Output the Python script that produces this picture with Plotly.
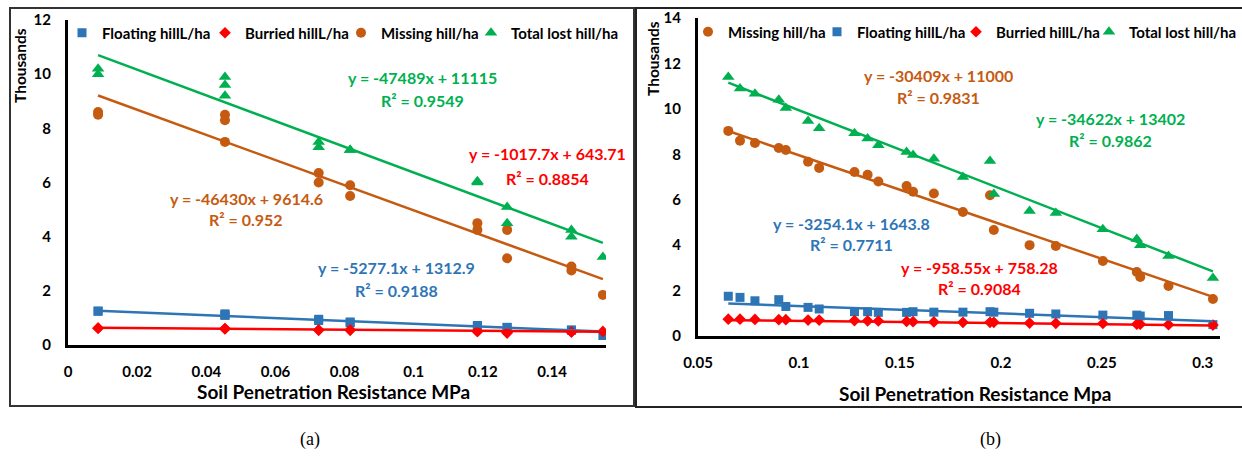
import plotly.graph_objects as go

W, H = 1242, 456

# ---------------- data: panel (a) ----------------
x_a = [0.0087, 0.0087, 0.0454, 0.0454, 0.0454, 0.0725, 0.0725, 0.0816, 0.0816,
       0.1184, 0.1184, 0.127, 0.127, 0.1456, 0.1456, 0.1547]
floating_a = [1.25, 1.25, 1.15, 1.1, 1.1, 0.95, 0.9, 0.85, 0.82, 0.72, 0.7, 0.65, 0.65, 0.55, 0.55, 0.35]
buried_a = [0.62, 0.62, 0.6, 0.6, 0.6, 0.55, 0.55, 0.55, 0.55, 0.5, 0.5, 0.45, 0.45, 0.48, 0.48, 0.5]
missing_a = [8.6, 8.5, 8.5, 8.3, 7.5, 6.35, 6.0, 5.9, 5.5, 4.5, 4.25, 4.25, 3.2, 2.9, 2.75, 1.85]
total_a = [10.2, 10.0, 9.9, 9.6, 9.2, 7.5, 7.3, 7.2, 7.2, 6.05, 6.0, 5.1, 4.5, 4.25, 4.0, 3.25]

# trendline coefficients (slope, intercept, R2) as printed on the chart
fit_a = {
    "floating": (-5277.1, 1312.9, "0.9188"),
    "buried": (-1017.7, 643.71, "0.8854"),
    "missing": (-46430, 9614.6, "0.952"),
    "total": (-47489, 11115, "0.9549"),
}

# ---------------- data: panel (b) ----------------
x_b = [0.065, 0.0708, 0.0782, 0.090, 0.0935, 0.1045, 0.110, 0.1275, 0.134, 0.1393, 0.1533,
       0.1565, 0.1668, 0.1812, 0.1946, 0.1965, 0.2142, 0.2272, 0.2505, 0.2673, 0.269, 0.283, 0.305]
missing_b = [9.03, 8.6, 8.5, 8.28, 8.19, 7.67, 7.4, 7.22, 7.1, 6.8, 6.6, 6.35, 6.27, 5.46, 6.2,
             4.67, 4.0, 3.96, 3.3, 2.82, 2.6, 2.2, 1.63]
floating_b = [1.75, 1.7, 1.55, 1.6, 1.3, 1.26, 1.19, 1.07, 1.07, 1.04, 1.04, 1.07, 1.05, 1.05, 1.07,
              1.05, 1.0, 0.97, 0.92, 0.92, 0.88, 0.9, 0.5]
buried_b = [0.74, 0.74, 0.73, 0.72, 0.72, 0.7, 0.7, 0.68, 0.67, 0.66, 0.64, 0.63, 0.62, 0.6, 0.6,
            0.6, 0.57, 0.56, 0.55, 0.52, 0.52, 0.5, 0.48]
total_b = [11.4, 10.9, 10.66, 10.4, 10.04, 9.47, 9.15, 8.93, 8.7, 8.4, 8.1, 7.97, 7.8, 7.0, 7.7,
           6.25, 5.5, 5.42, 4.7, 4.27, 4.0, 3.52, 2.55]

fit_b = {
    "missing": (-30409, 11000, "0.9831"),
    "floating": (-3254.1, 1643.8, "0.7711"),
    "buried": (-958.55, 758.28, "0.9084"),
    "total": (-34622, 13402, "0.9862"),
}

names = {
    "floating": "Floating hillL/ha",
    "buried": "Burried hillL/ha",
    "missing": "Missing hill/ha",
    "total": "Total lost hill/ha",
}
colors = {"floating": "#2E75B6", "buried": "#FF0000", "missing": "#C55A11", "total": "#00B050"}
symbols = {"floating": "square", "buried": "diamond", "missing": "circle", "total": "triangle-up"}
msize = {"floating": 9, "buried": 9, "missing": 10, "total": 11}

# legend entry widths (px) per panel, in legend order
legw_a = {"floating": 98, "buried": 91, "missing": 85, "total": 115}
legw_b = {"missing": 84, "floating": 94, "buried": 88, "total": 112}

FONT = "Lato"


def px(xp):
    return xp / W


def py(yp):
    return 1 - yp / H


fig = go.Figure()


def add_panel(xs, series, fits, order, xa, ya, legend, legw):
    for key in order:
        fig.add_trace(go.Scatter(
            x=xs, y=series[key], mode="markers", name=names[key],
            marker=dict(symbol=symbols[key], color=colors[key], size=msize[key]),
            xaxis=xa, yaxis=ya, legend=legend, legendwidth=legw[key],
        ))
    for key in order:
        m, b, _ = fits[key]
        x0, x1 = min(xs), max(xs)
        fig.add_trace(go.Scatter(
            x=[x0, x1], y=[(m * x0 + b) / 1000, (m * x1 + b) / 1000], mode="lines",
            line=dict(color=colors[key], width=2.5), showlegend=False,
            xaxis=xa, yaxis=ya, hoverinfo="skip",
        ))


series_a = {"floating": floating_a, "buried": buried_a, "missing": missing_a, "total": total_a}
series_b = {"missing": missing_b, "floating": floating_b, "buried": buried_b, "total": total_b}
add_panel(x_a, series_a, fit_a, ["floating", "buried", "missing", "total"], "x", "y", "legend", legw_a)
add_panel(x_b, series_b, fit_b, ["missing", "floating", "buried", "total"], "x2", "y2", "legend2", legw_b)

axis_common = dict(showgrid=False, zeroline=False, showline=True, linecolor="black", linewidth=3,
                   ticks="", tickfont=dict(family=FONT, size=15, color="black", weight="bold"))

legend_common = dict(orientation="h", xanchor="left", yanchor="middle",
                     font=dict(family=FONT, size=15, color="black", weight="bold"),
                     bgcolor="rgba(0,0,0,0)", itemwidth=30, borderwidth=0)

fig.update_layout(
    width=W, height=H, margin=dict(l=0, r=0, t=0, b=0, autoexpand=False),
    paper_bgcolor="white", plot_bgcolor="white",
    font=dict(family=FONT, color="black"),
    xaxis=dict(domain=[px(68), px(606)], range=[0, 0.1556], tickvals=[0, 0.02, 0.04, 0.06, 0.08, 0.1, 0.12, 0.14],
               ticktext=["0", "0.02", "0.04", "0.06", "0.08", "0.1", "0.12", "0.14"],
               ticklabelstandoff=11, anchor="y", **axis_common),
    yaxis=dict(domain=[py(345), py(20)], range=[0, 12], tickvals=[0, 2, 4, 6, 8, 10, 12],
               ticklabelstandoff=11, anchor="x", **axis_common),
    xaxis2=dict(domain=[px(698), px(1220)], range=[0.05, 0.3085], tickvals=[0.05, 0.1, 0.15, 0.2, 0.25, 0.3],
                ticktext=["0.05", "0.1", "0.15", "0.2", "0.25", "0.3"],
                ticklabelstandoff=11, anchor="y2", **axis_common),
    yaxis2=dict(domain=[py(336), py(18)], range=[0, 14], tickvals=[0, 2, 4, 6, 8, 10, 12, 14],
                ticklabelstandoff=11, anchor="x2", **axis_common),
    legend=dict(x=px(62), y=py(33), **legend_common),
    legend2=dict(x=px(688), y=py(32), **legend_common),
)

annotations = []


def text(xp, yp, s, color="black", size=16, angle=0, family=FONT, bold=True):
    annotations.append(dict(
        x=px(xp), y=py(yp), xref="paper", yref="paper", text=s, showarrow=False,
        xanchor="center", yanchor="middle", textangle=angle,
        font=dict(family=family, size=size, color=color, weight="bold" if bold else "normal"),
    ))


def eq(key, fits, xp, yp, yp2):
    m, b, r2 = fits[key]
    text(xp, yp, f"y = {m:g}x + {b:g}", colors[key])
    text(xp, yp2, f"R² = {r2}", colors[key])


eq("total", fit_a, 422, 77, 100)
eq("buried", fit_a, 547, 153, 178)
eq("missing", fit_a, 246, 198, 220)
eq("floating", fit_a, 397, 267, 290)

eq("missing", fit_b, 938, 75, 97)
eq("total", fit_b, 1110, 118, 140)
eq("floating", fit_b, 851, 223, 245)
eq("buried", fit_b, 980, 267, 288)

text(20, 66, "Thousands", size=15.5, angle=-90)
text(653, 59, "Thousands", size=15.5, angle=-90)
text(334, 391, "Soil Penetration Resistance MPa", size=19)
text(975, 393, "Soil Penetration Resistance Mpa", size=19)
text(310, 439, "(a)", size=18, family="Liberation Serif", bold=False)
text(990, 439, "(b)", size=18, family="Liberation Serif", bold=False)

fig.update_layout(annotations=annotations)

shapes = [
    dict(type="rect", xref="paper", yref="paper", x0=px(10), x1=px(634), y0=py(406), y1=py(8),
         line=dict(color="#333333", width=2)),
    dict(type="rect", xref="paper", yref="paper", x0=px(636), x1=px(1246), y0=py(407), y1=py(8),
         line=dict(color="#222222", width=2)),
]
fig.update_layout(shapes=shapes)

fig.write_html("out.html")
